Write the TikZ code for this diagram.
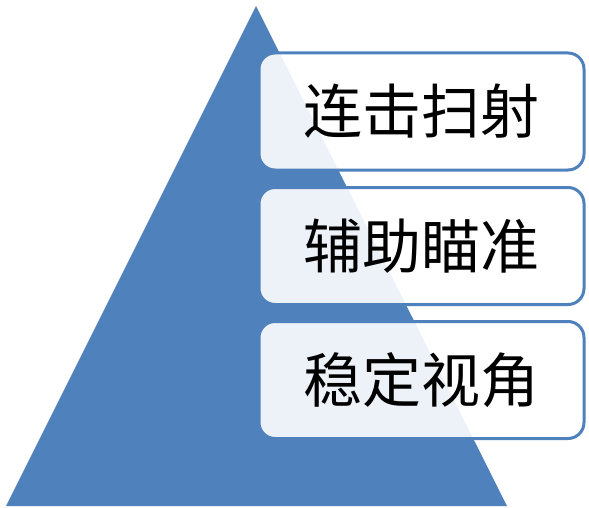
\documentclass[tikz,border=0pt]{standalone}
\usepackage{fontspec}
\newfontfamily\cjk{Noto Sans CJK SC}
\usetikzlibrary{positioning}
\definecolor{pyrblue}{RGB}{79,129,189}

\begin{document}
\begin{tikzpicture}[x=1pt, y=-1pt,
  cell/.style={rectangle, rounded corners=16pt, draw=pyrblue, line width=3pt, fill=white, fill opacity=0.9, text opacity=1, minimum width=325pt, minimum height=117pt, align=center, font=\cjk\fontsize{59}{62}\selectfont}]
\useasboundingbox (0,0) rectangle (589,508);

% triangle
\coordinate (top) at (256,6);
\coordinate (bl) at (6,506);
\coordinate (br) at (507,506);
\fill[pyrblue] (top) -- (br) -- (bl) -- cycle;

% labels
\node[cell] at (421.5,111.5) (lianji) {连击扫射};
\node[cell] at (421.5,246) (fuzhu) {辅助瞄准};
\node[cell] at (421.5,380) (wending) {稳定视角};
\end{tikzpicture}
\end{document}
